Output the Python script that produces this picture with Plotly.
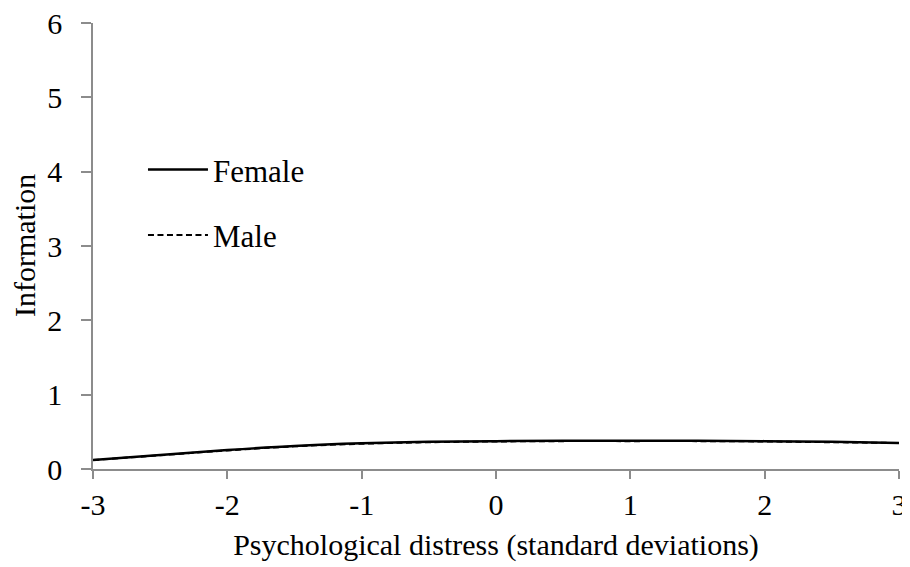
import plotly.graph_objects as go

theta = [-3, -2.5, -2, -1.5, -1, -0.5, 0, 0.5, 1, 1.5, 2, 2.5, 3]
female = [0.12, 0.19, 0.255, 0.31, 0.345, 0.365, 0.375, 0.38, 0.38, 0.38, 0.375, 0.365, 0.35]
male = [0.12, 0.185, 0.25, 0.305, 0.34, 0.36, 0.37, 0.375, 0.375, 0.375, 0.37, 0.36, 0.35]

x_ticks = [-3, -2, -1, 0, 1, 2, 3]
y_ticks = [0, 1, 2, 3, 4, 5, 6]

FONT = "Liberation Serif"
AX = "#8c8c8c"
FS = 30

fig = go.Figure()
fig.add_trace(go.Scatter(x=theta, y=female, mode="lines", name="Female",
                         legendgroup="f",
                         line=dict(color="black", width=2.5, shape="spline")))
fig.add_trace(go.Scatter(x=theta, y=male, mode="lines", name="Male",
                         legendgroup="m",
                         line=dict(color="black", width=2, dash="6px,3.5px", shape="spline")))

fig.add_annotation(text="Information", textangle=-90, showarrow=False,
                   xref="paper", yref="paper", x=0, y=0.5,
                   xanchor="center", yanchor="middle", xshift=-69,
                   font=dict(family=FONT, size=FS, color="black"))

fig.update_layout(
    width=902, height=559,
    margin=dict(l=85, r=11, t=15, b=98),
    paper_bgcolor="white", plot_bgcolor="white",
    font=dict(family=FONT, size=FS, color="black"),
    showlegend=True,
    legend=dict(x=0.062, y=0.731, xanchor="left", yanchor="top",
                bgcolor="rgba(0,0,0,0)", font=dict(family=FONT, size=31),
                tracegroupgap=22, itemwidth=60),
    xaxis=dict(range=[-3, 3], tickvals=x_ticks, ticktext=[str(v) for v in x_ticks],
               showgrid=False, zeroline=False, showline=True, linecolor=AX, linewidth=1.5,
               ticks="outside", ticklen=8, tickcolor=AX, tickwidth=1.5, automargin=False,
               ticklabeloverflow="allow",
               title=dict(text="Psychological distress (standard deviations)", standoff=14,
                          font=dict(family=FONT, size=FS)),
               tickfont=dict(family=FONT, size=FS)),
    yaxis=dict(range=[0, 6], tickvals=y_ticks, ticktext=[str(v) for v in y_ticks],
               showgrid=False, zeroline=False, showline=True, linecolor=AX, linewidth=1.5,
               ticks="outside", ticklen=10, tickcolor=AX, tickwidth=1.5, automargin=False,
               ticklabeloverflow="allow",
               tickfont=dict(family=FONT, size=FS), ticklabelstandoff=13),
)

fig.write_html("out.html")
